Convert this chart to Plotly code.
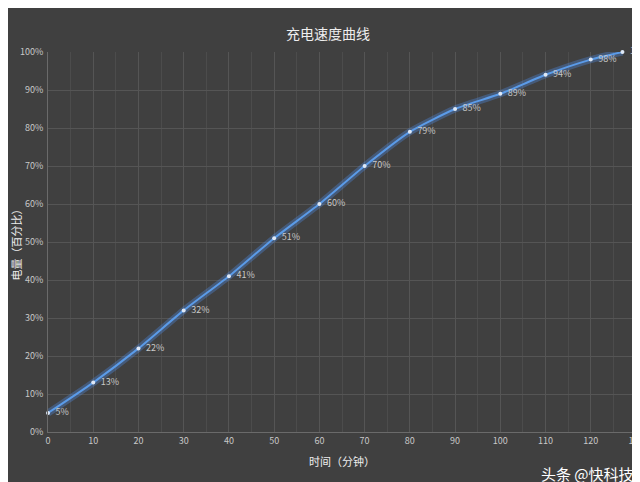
import plotly.graph_objects as go

minutes = [0, 10, 20, 30, 40, 50, 60, 70, 80, 90, 100, 110, 120, 127]
battery = [5, 13, 22, 32, 41, 51, 60, 70, 79, 85, 89, 94, 98, 100]
labels = [f"  {v}%" for v in battery]

fig = go.Figure()
fig.add_trace(go.Scatter(x=minutes, y=battery, mode="lines", line=dict(color="rgba(80,140,230,0.35)", width=7, shape="spline", smoothing=0.6), hoverinfo="skip", showlegend=False))
fig.add_trace(go.Scatter(x=minutes, y=battery, mode="lines+markers+text", text=labels, textposition="middle right",
    textfont=dict(color="#c8c8c8", size=9, family="Noto Sans CJK SC"), cliponaxis=False,
    line=dict(color="#5b9be8", width=2, shape="spline", smoothing=0.6),
    marker=dict(color="#dfe9f7", size=4), showlegend=False))

fig.update_layout(
    width=640, height=482, paper_bgcolor="#404040", plot_bgcolor="#404040",
    margin=dict(l=40, r=12, t=44, b=58),
    title=dict(text="充电速度曲线", x=0.5, y=0.955, xanchor="center", font=dict(color="#eeeeee", size=14, family="Noto Sans CJK SC")),
    font=dict(family="Noto Sans CJK SC", color="#c8c8c8", size=9),
    xaxis=dict(range=[0, 130], tick0=0, dtick=10, gridcolor="#555555", linecolor="#6a6a6a", showline=True,
               minor=dict(dtick=5, showgrid=True, gridcolor="#4c4c4c"), zeroline=False, automargin=False,
               title=dict(text="时间（分钟）", font=dict(color="#eeeeee", size=11), standoff=12)),
    yaxis=dict(range=[0, 100], dtick=10, ticksuffix="%", gridcolor="#555555", linecolor="#6a6a6a", showline=True, zeroline=False,
               automargin=False, ticklabelstandoff=2,
               title=dict(text="电量（百分比）", font=dict(color="#eeeeee", size=11), standoff=4)),
)
fig.add_annotation(text="头条 @快科技", xref="paper", yref="paper", x=1.0, y=-0.075, xanchor="right", yanchor="top", showarrow=False,
                   font=dict(color="#ffffff", size=15, family="Noto Sans CJK SC"))
fig.write_html("out.html")
